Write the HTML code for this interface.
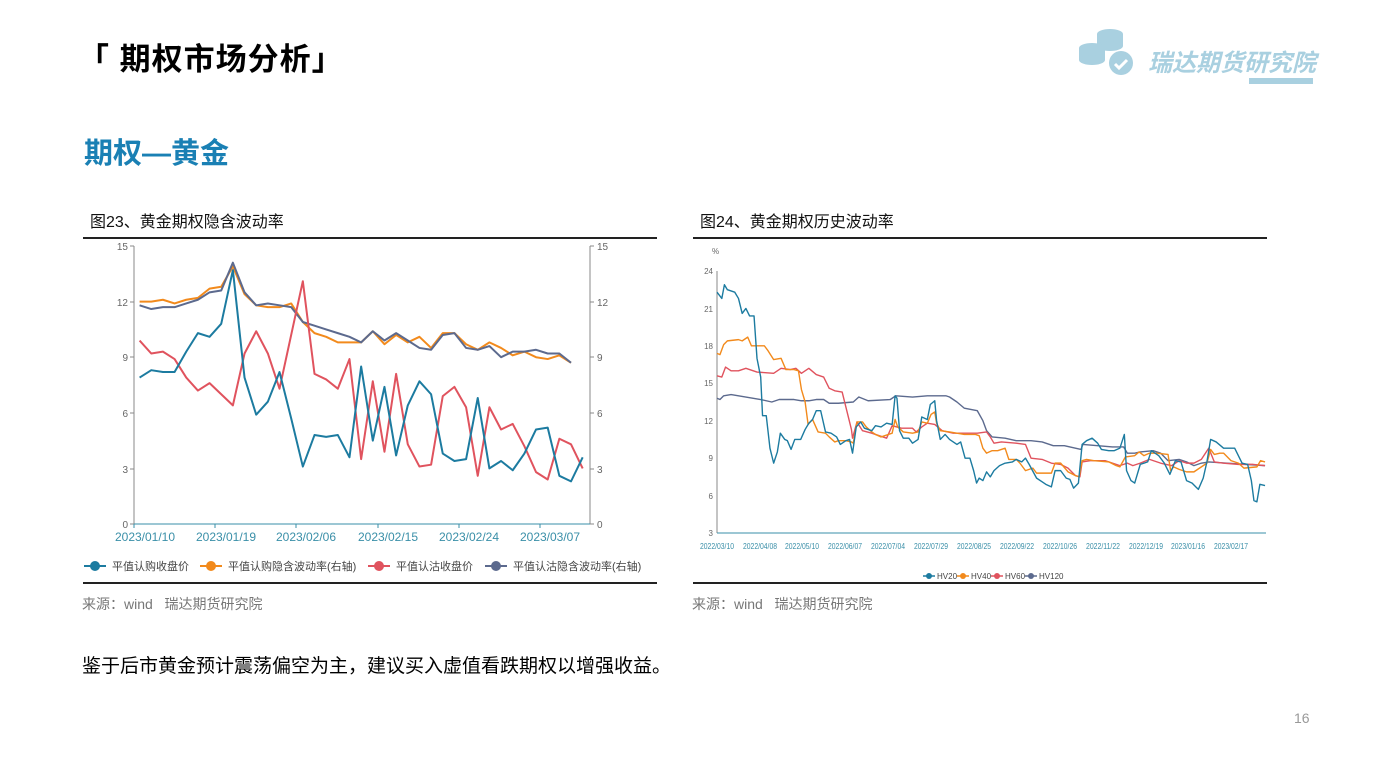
<!DOCTYPE html>
<html><head><meta charset="utf-8"><style>
body{margin:0;width:1387px;height:780px;background:#fff;overflow:hidden;position:relative;font-family:"Liberation Sans","Noto Sans CJK SC",sans-serif}
.a{position:absolute;white-space:nowrap}
</style></head><body>
<div class="a" style="left:78px;top:34px;font-size:31px;font-weight:bold;color:#000;letter-spacing:1px">「 期权市场分析」</div>
<div class="a" style="left:84px;top:130px;font-size:29px;font-weight:bold;color:#1a80b4">期权—黄金</div>
<svg class="a" style="left:1075px;top:26px" width="60" height="52" viewBox="0 0 60 52">
<g fill="#a9d0e0"><ellipse cx="35" cy="8" rx="13" ry="5"/><rect x="22" y="8" width="26" height="12"/><ellipse cx="35" cy="20" rx="13" ry="5"/>
<ellipse cx="17" cy="22" rx="13" ry="5"/><rect x="4" y="22" width="26" height="12"/><ellipse cx="17" cy="34" rx="13" ry="5"/>
<circle cx="46" cy="37" r="12"/></g><path d="M40 38l4 4 8-8" stroke="#fff" stroke-width="3" fill="none"/></svg>
<div class="a" style="left:1148px;top:43px;font-size:24px;font-weight:bold;font-style:italic;color:#a9d0e0">瑞达期货研究院</div>
<div style="position:absolute;left:1249px;top:78px;width:64px;height:6px;background:#a9d0e0"></div>

<div class="a" style="left:90px;top:208px;font-size:16px;color:#111">图23、黄金期权隐含波动率</div>
<div class="a" style="left:700px;top:208px;font-size:16px;color:#111">图24、黄金期权历史波动率</div>
<div style="position:absolute;left:83px;top:237px;width:574px;height:2px;background:#222"></div>
<div style="position:absolute;left:693px;top:237px;width:574px;height:2px;background:#222"></div>
<div style="position:absolute;left:83px;top:582px;width:574px;height:2px;background:#222"></div>
<div style="position:absolute;left:693px;top:582px;width:574px;height:2px;background:#222"></div>
<div class="a" style="left:82px;top:594px;font-size:14px;color:#777">来源：wind&nbsp;&nbsp;&nbsp;瑞达期货研究院</div>
<div class="a" style="left:692px;top:594px;font-size:14px;color:#777">来源：wind&nbsp;&nbsp;&nbsp;瑞达期货研究院</div>
<div class="a" style="left:82px;top:651px;font-size:19px;color:#000">鉴于后市黄金预计震荡偏空为主，建议买入虚值看跌期权以增强收益。</div>
<div class="a" style="left:1294px;top:710px;font-size:14px;color:#999">16</div>

<svg class="a" style="left:0;top:0" width="1387" height="780">
<g font-size="10" fill="#666" font-family="Liberation Sans,sans-serif">
<line x1="134" y1="246" x2="134" y2="524" stroke="#888"/><line x1="590" y1="246" x2="590" y2="524" stroke="#888"/>
<line x1="134" y1="524" x2="590" y2="524" stroke="#3a8fa8"/>
<g stroke="#888"><path d="M130 246h4M130 302h4M130 357h4M130 413h4M130 469h4M130 524h4M590 246h4M590 302h4M590 357h4M590 413h4M590 469h4M590 524h4"/></g>
<g text-anchor="end"><text x="128" y="250">15</text><text x="128" y="306">12</text><text x="128" y="361">9</text><text x="128" y="417">6</text><text x="128" y="473">3</text><text x="128" y="528">0</text></g>
<text x="597" y="250">15</text><text x="597" y="306">12</text><text x="597" y="361">9</text><text x="597" y="417">6</text><text x="597" y="473">3</text><text x="597" y="528">0</text>
<g stroke="#3a8fa8"><path d="M134 524v4M215 524v4M296 524v4M378 524v4M459 524v4M540 524v4"/></g>
<g font-size="12" fill="#3a8fa8" text-anchor="middle"><text x="145" y="541">2023/01/10</text><text x="226" y="541">2023/01/19</text><text x="306" y="541">2023/02/06</text><text x="388" y="541">2023/02/15</text><text x="469" y="541">2023/02/24</text><text x="550" y="541">2023/03/07</text></g>
</g>
<g transform="matrix(11.66 0 0 -18.533 139.6 524)" fill="none" stroke-width="2" stroke-linejoin="round">
<polyline vector-effect="non-scaling-stroke" stroke="#f28a1c" points="0,12 1,12 2,12.1 3,11.9 4,12.1 5,12.2 6,12.7 7,12.8 8,13.9 9,12.4 10,11.8 11,11.7 12,11.7 13,11.9 14,10.9 15,10.3 16,10.1 17,9.8 18,9.8 19,9.8 20,10.4 21,9.7 22,10.2 23,9.8 24,10.1 25,9.5 26,10.3 27,10.3 28,9.7 29,9.4 30,9.8 31,9.5 32,9.1 33,9.3 34,9 35,8.9 36,9.1 37,8.7"/>
<polyline vector-effect="non-scaling-stroke" stroke="#5c6a8e" points="0,11.8 1,11.6 2,11.7 3,11.7 4,11.9 5,12.1 6,12.5 7,12.6 8,14.1 9,12.5 10,11.8 11,11.9 12,11.8 13,11.7 14,10.9 15,10.7 16,10.5 17,10.3 18,10.1 19,9.8 20,10.4 21,9.9 22,10.3 23,9.9 24,9.5 25,9.4 26,10.2 27,10.3 28,9.5 29,9.4 30,9.6 31,9 32,9.3 33,9.3 34,9.4 35,9.2 36,9.2 37,8.7"/>
<polyline vector-effect="non-scaling-stroke" stroke="#e0535e" points="0,9.9 1,9.2 2,9.3 3,8.9 4,7.9 5,7.2 6,7.6 7,7 8,6.4 9,9.2 10,10.4 11,9.2 12,7.3 13,10.2 14,13.1 15,8.1 16,7.8 17,7.3 18,8.9 19,3.5 20,7.7 21,3.9 22,8.1 23,4.3 24,3.1 25,3.2 26,6.9 27,7.4 28,6.3 29,2.6 30,6.3 31,5.1 32,5.4 33,4.2 34,2.8 35,2.4 36,4.6 37,4.3 38,3"/>
<polyline vector-effect="non-scaling-stroke" stroke="#1c7ba0" points="0,7.9 1,8.3 2,8.2 3,8.2 4,9.3 5,10.3 6,10.1 7,10.8 8,13.7 9,7.9 10,5.9 11,6.6 12,8.2 13,5.7 14,3.1 15,4.8 16,4.7 17,4.8 18,3.6 19,8.5 20,4.5 21,7.4 22,3.7 23,6.4 24,7.7 25,7 26,3.8 27,3.4 28,3.5 29,6.8 30,3 31,3.4 32,2.9 33,3.8 34,5.1 35,5.2 36,2.6 37,2.3 38,3.6"/>
</g>
<g font-size="11" fill="#444">
<line x1="84" y1="566" x2="106" y2="566" stroke="#1c7ba0" stroke-width="2"/><circle cx="95" cy="566" r="5" fill="#1c7ba0"/><text x="112" y="570">平值认购收盘价</text>
<line x1="200" y1="566" x2="222" y2="566" stroke="#f28a1c" stroke-width="2"/><circle cx="211" cy="566" r="5" fill="#f28a1c"/><text x="228" y="570">平值认购隐含波动率(右轴)</text>
<line x1="368" y1="566" x2="390" y2="566" stroke="#e0535e" stroke-width="2"/><circle cx="379" cy="566" r="5" fill="#e0535e"/><text x="396" y="570">平值认沽收盘价</text>
<line x1="485" y1="566" x2="507" y2="566" stroke="#5c6a8e" stroke-width="2"/><circle cx="496" cy="566" r="5" fill="#5c6a8e"/><text x="513" y="570">平值认沽隐含波动率(右轴)</text>
</g>

<!-- right chart -->
<g font-size="8" fill="#666" font-family="Liberation Sans,sans-serif">
<text x="712" y="254">%</text>
<line x1="717" y1="271" x2="717" y2="533" stroke="#888"/>
<line x1="717" y1="533" x2="1266" y2="533" stroke="#3a8fa8"/>
<g text-anchor="end"><text x="713" y="274">24</text><text x="713" y="312">21</text><text x="713" y="349">18</text><text x="713" y="386">15</text><text x="713" y="424">12</text><text x="713" y="461">9</text><text x="713" y="499">6</text><text x="713" y="536">3</text></g>
<g fill="#3a8fa8" text-anchor="middle" font-size="8"><text x="717" y="549" textLength="34" lengthAdjust="spacingAndGlyphs">2022/03/10</text><text x="760" y="549" textLength="34" lengthAdjust="spacingAndGlyphs">2022/04/08</text><text x="802" y="549" textLength="34" lengthAdjust="spacingAndGlyphs">2022/05/10</text><text x="845" y="549" textLength="34" lengthAdjust="spacingAndGlyphs">2022/06/07</text><text x="888" y="549" textLength="34" lengthAdjust="spacingAndGlyphs">2022/07/04</text><text x="931" y="549" textLength="34" lengthAdjust="spacingAndGlyphs">2022/07/29</text><text x="974" y="549" textLength="34" lengthAdjust="spacingAndGlyphs">2022/08/25</text><text x="1017" y="549" textLength="34" lengthAdjust="spacingAndGlyphs">2022/09/22</text><text x="1060" y="549" textLength="34" lengthAdjust="spacingAndGlyphs">2022/10/26</text><text x="1103" y="549" textLength="34" lengthAdjust="spacingAndGlyphs">2022/11/22</text><text x="1146" y="549" textLength="34" lengthAdjust="spacingAndGlyphs">2022/12/19</text><text x="1188" y="549" textLength="34" lengthAdjust="spacingAndGlyphs">2023/01/16</text><text x="1231" y="549" textLength="34" lengthAdjust="spacingAndGlyphs">2023/02/17</text></g>
</g>
<g transform="matrix(0.3703 0 0 -12.476 690.34 570.43)" fill="none" stroke-width="1.4" stroke-linejoin="round">
<polyline vector-effect="non-scaling-stroke" stroke="#5c6a8e" points="72,13.8 80,13.7 90,14 110,14.1 150,13.9 190,13.7 220,13.5 240,13.7 280,13.7 300,13.6 320,13.6 340,13.7 360,13.7 375,13.4 400,13.4 440,13.5 455,13.9 480,13.6 540,13.7 555,14 600,13.9 640,14 690,14 700,13.9 720,13.5 740,13 775,12.8 790,12 800,11.2 815,10.7 850,10.6 880,10.4 920,10.4 950,10.3 980,10 1010,10 1040,9.8 1055,9.7 1060,10.1 1100,10 1140,9.9 1170,9.9 1180,9.4 1200,9.4 1215,9.5 1250,9.6 1270,9.4 1290,8.8 1320,8.9 1340,8.7 1360,8.4 1380,8.6 1400,8.7 1450,8.6 1500,8.5 1552,8.4"/>
<polyline vector-effect="non-scaling-stroke" stroke="#e0535e" points="72,15.6 85,15.5 95,16.3 110,16 130,16 150,16.2 180,15.9 225,15.8 245,16.2 270,16.1 285,16.2 300,15.8 320,16.2 340,15.7 360,15.5 375,14.6 390,14.4 410,14.3 425,12.5 435,11.3 438,10.6 450,11.9 465,11.2 490,11 510,10.8 530,10.6 545,11.6 570,11.4 600,11.4 610,11.1 625,11.5 640,11.8 660,11.7 680,11.2 710,11 740,11 775,11 800,11.1 810,10.7 820,10.2 840,10.3 880,10.2 905,10.1 920,9 950,8.9 975,8.6 1000,8.5 1020,8.2 1040,7.6 1052,7.5 1058,8.7 1080,8.8 1120,8.8 1160,8.4 1180,8.6 1195,8.4 1215,8.6 1240,8.9 1270,8.6 1300,8.4 1320,8.8 1340,8.6 1360,8.6 1380,8.9 1400,9.8 1415,8.7 1440,8.6 1480,8.5 1520,8.5 1552,8.4"/>
<polyline vector-effect="non-scaling-stroke" stroke="#f28a1c" points="72,17.4 80,17.3 90,18.1 100,18.4 130,18.5 140,18.4 155,18.7 165,18 200,18 210,17.6 225,16.9 245,17 258,16.1 280,16.1 292,16 300,14.5 310,13.5 318,11.7 330,12.1 345,11.1 365,11 375,10.7 390,10.3 400,10.4 420,10.4 435,10.3 440,10.2 450,11.9 465,11.9 475,11.5 490,11.1 500,10.9 515,10.7 525,10.8 545,11 553,12.1 560,11.5 575,11.1 600,11 615,11.1 625,11.9 640,11.8 650,12.5 660,12.7 665,11.8 675,11.2 700,11.1 740,10.9 770,10.9 780,10.8 790,9.8 800,9.4 815,9.6 830,9.6 850,9.8 860,8.9 880,8.9 890,8.6 905,8 925,8.2 935,7.8 975,7.8 985,8.6 1000,8.6 1020,7.9 1040,7.6 1050,7.5 1058,8.8 1070,8.9 1090,8.8 1130,8.7 1150,8.4 1160,8.3 1175,9.1 1200,9.2 1212,9.5 1225,9.2 1240,9.4 1260,9.4 1290,9.3 1297,8 1305,8.3 1320,8.1 1340,7.9 1360,7.9 1380,8.3 1395,8.6 1405,9.7 1415,9.3 1430,9.4 1440,9.4 1460,8.8 1480,8.6 1495,8.2 1530,8.3 1540,8.8 1552,8.7"/>
<polyline vector-effect="non-scaling-stroke" stroke="#1c7ba0" points="72,22.3 85,21.8 92,22.9 100,22.5 120,22.3 130,21.8 140,20.6 150,21 160,20.4 172,20.4 180,17 190,15.5 195,12.4 205,12.4 215,9.8 225,8.6 235,9.5 243,11 255,10.5 262,10.4 272,9.7 282,10.5 298,10.5 310,11.3 320,11.8 330,12.1 340,12.8 352,12.8 365,11.1 380,11 395,10.7 405,10.1 420,10.4 430,10.5 438,9.4 448,11.5 460,11.9 470,11.4 480,11.3 490,11.2 500,11.6 515,11.5 530,11.8 545,11.7 553,14 558,13.8 565,11.2 575,10.6 590,10.6 600,10.2 615,10.5 625,12.3 640,12.1 648,13.3 660,13.6 665,12 675,10.5 688,10.9 700,10.5 720,10.1 730,10.3 742,9 755,9 765,8 773,7 780,7.4 790,7.2 800,7.9 810,7.5 820,8 835,8.4 850,8.6 870,8.7 880,8.9 895,8.7 905,9 915,8.5 935,7.4 950,7.1 960,6.9 975,6.7 985,8 1000,8 1015,7.4 1025,7.3 1035,6.6 1048,7 1058,10.1 1070,10.4 1085,10.6 1100,10.2 1110,9.7 1130,9.6 1145,9.6 1160,9.8 1172,10.9 1178,8 1190,7.2 1200,7 1215,8.5 1235,8.7 1245,9.6 1265,9.2 1280,8.6 1295,7.7 1310,8.8 1325,8.7 1340,7.2 1355,7 1365,6.7 1372,6.5 1385,7.4 1395,8.7 1405,10.5 1420,10.3 1440,9.8 1470,9.8 1490,8.6 1505,8.5 1515,7.2 1522,5.6 1530,5.5 1538,6.9 1552,6.8"/>
</g>
<g font-size="8" fill="#444">
<line x1="923" y1="576" x2="935" y2="576" stroke="#1c7ba0" stroke-width="1.5"/><circle cx="929" cy="576" r="3" fill="#1c7ba0"/><text x="937" y="579">HV20</text>
<line x1="957" y1="576" x2="969" y2="576" stroke="#f28a1c" stroke-width="1.5"/><circle cx="963" cy="576" r="3" fill="#f28a1c"/><text x="971" y="579">HV40</text>
<line x1="991" y1="576" x2="1003" y2="576" stroke="#e0535e" stroke-width="1.5"/><circle cx="997" cy="576" r="3" fill="#e0535e"/><text x="1005" y="579">HV60</text>
<line x1="1025" y1="576" x2="1037" y2="576" stroke="#5c6a8e" stroke-width="1.5"/><circle cx="1031" cy="576" r="3" fill="#5c6a8e"/><text x="1039" y="579">HV120</text>
</g>
</svg>
</body></html>
